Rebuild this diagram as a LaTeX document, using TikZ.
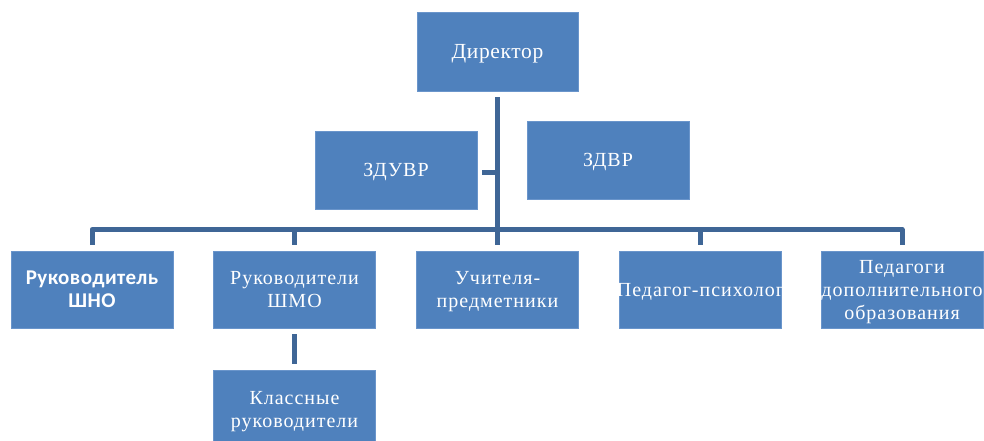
\documentclass[tikz,border=0pt]{standalone}
\usepackage{fontspec}
\setmainfont{Liberation Serif}[LetterSpace=5]
\newfontfamily\dirfont{Liberation Serif}[LetterSpace=3]
\newfontfamily\boldsans{Carlito}[LetterSpace=2]
\usetikzlibrary{calc}
\definecolor{boxblue}{HTML}{4F81BD}
\definecolor{boxrim}{HTML}{6A95CB}
\definecolor{linkblue}{HTML}{3F6696}
\newcommand{\wideline}[1]{\makebox[0pt][c]{#1}}
\tikzset{
  orgbox/.style={rectangle, fill=boxblue, draw=boxrim, line width=0.8pt, text=white,
    minimum width=162pt, minimum height=78pt, inner sep=0pt, align=center,
    text depth=0pt, font=\fontsize{20}{23}\selectfont},
  conn/.style={draw=linkblue, line width=5pt, line join=round, line cap=butt}
}
\begin{document}
\begin{tikzpicture}[x=1pt,y=-1pt]
\useasboundingbox (0,0) rectangle (984,441);
\clip (0,0) rectangle (984,441);
\node[orgbox, minimum width=161pt, minimum height=79pt, font=\dirfont\fontsize{21.5}{23}\selectfont] (dir) at (497.5,51.5) {Директор};
\node[orgbox] (zduvr) at (396,170) {ЗДУВР};
\node[orgbox] (zdvr) at (608,160) {ЗДВР};
\node[orgbox, minimum height=77pt, font=\boldsans\bfseries\fontsize{21}{23}\selectfont] (b1) at (92,289.5) {Руководитель\\ШНО};
\node[orgbox, minimum height=77pt] (b2) at (294.5,289.5) {Руководители\\ШМО};
\node[orgbox, minimum height=77pt] (b3) at (497.5,289.5) {Учителя-\\предметники};
\node[orgbox, minimum height=77pt] (b4) at (700.5,289.5) {\wideline{Педагог-психолог}};
\node[orgbox, minimum height=77pt] (b5) at (902,289.5) {Педагоги\\\wideline{дополнительного}\\образования};
\node[orgbox] (kl) at (294.5,409) {Классные\\руководители};
% trunk
\draw[conn] ($(dir.south)+(0,6)$) -- ($(b3.north)+(0,-6)$);
% stub from ZDUVR
\draw[conn] ($(zduvr.east)+(5,2)$) -- ($(zduvr.east -| dir.south)+(0,2)$);
% bus
\draw[conn] ($(b1.north)+(0,-6)$) -- ($(b1.north)+(0,-21)$) -| ($(b5.north)+(0,-6)$);
\draw[conn] ($(b2.north)+(0,-21)$) -- ($(b2.north)+(0,-6)$);
\draw[conn] ($(b4.north)+(0,-21)$) -- ($(b4.north)+(0,-6)$);
% SHMO to class leaders
\draw[conn] ($(b2.south)+(0,6)$) -- ($(kl.north)+(0,-6)$);
\end{tikzpicture}
\end{document}
